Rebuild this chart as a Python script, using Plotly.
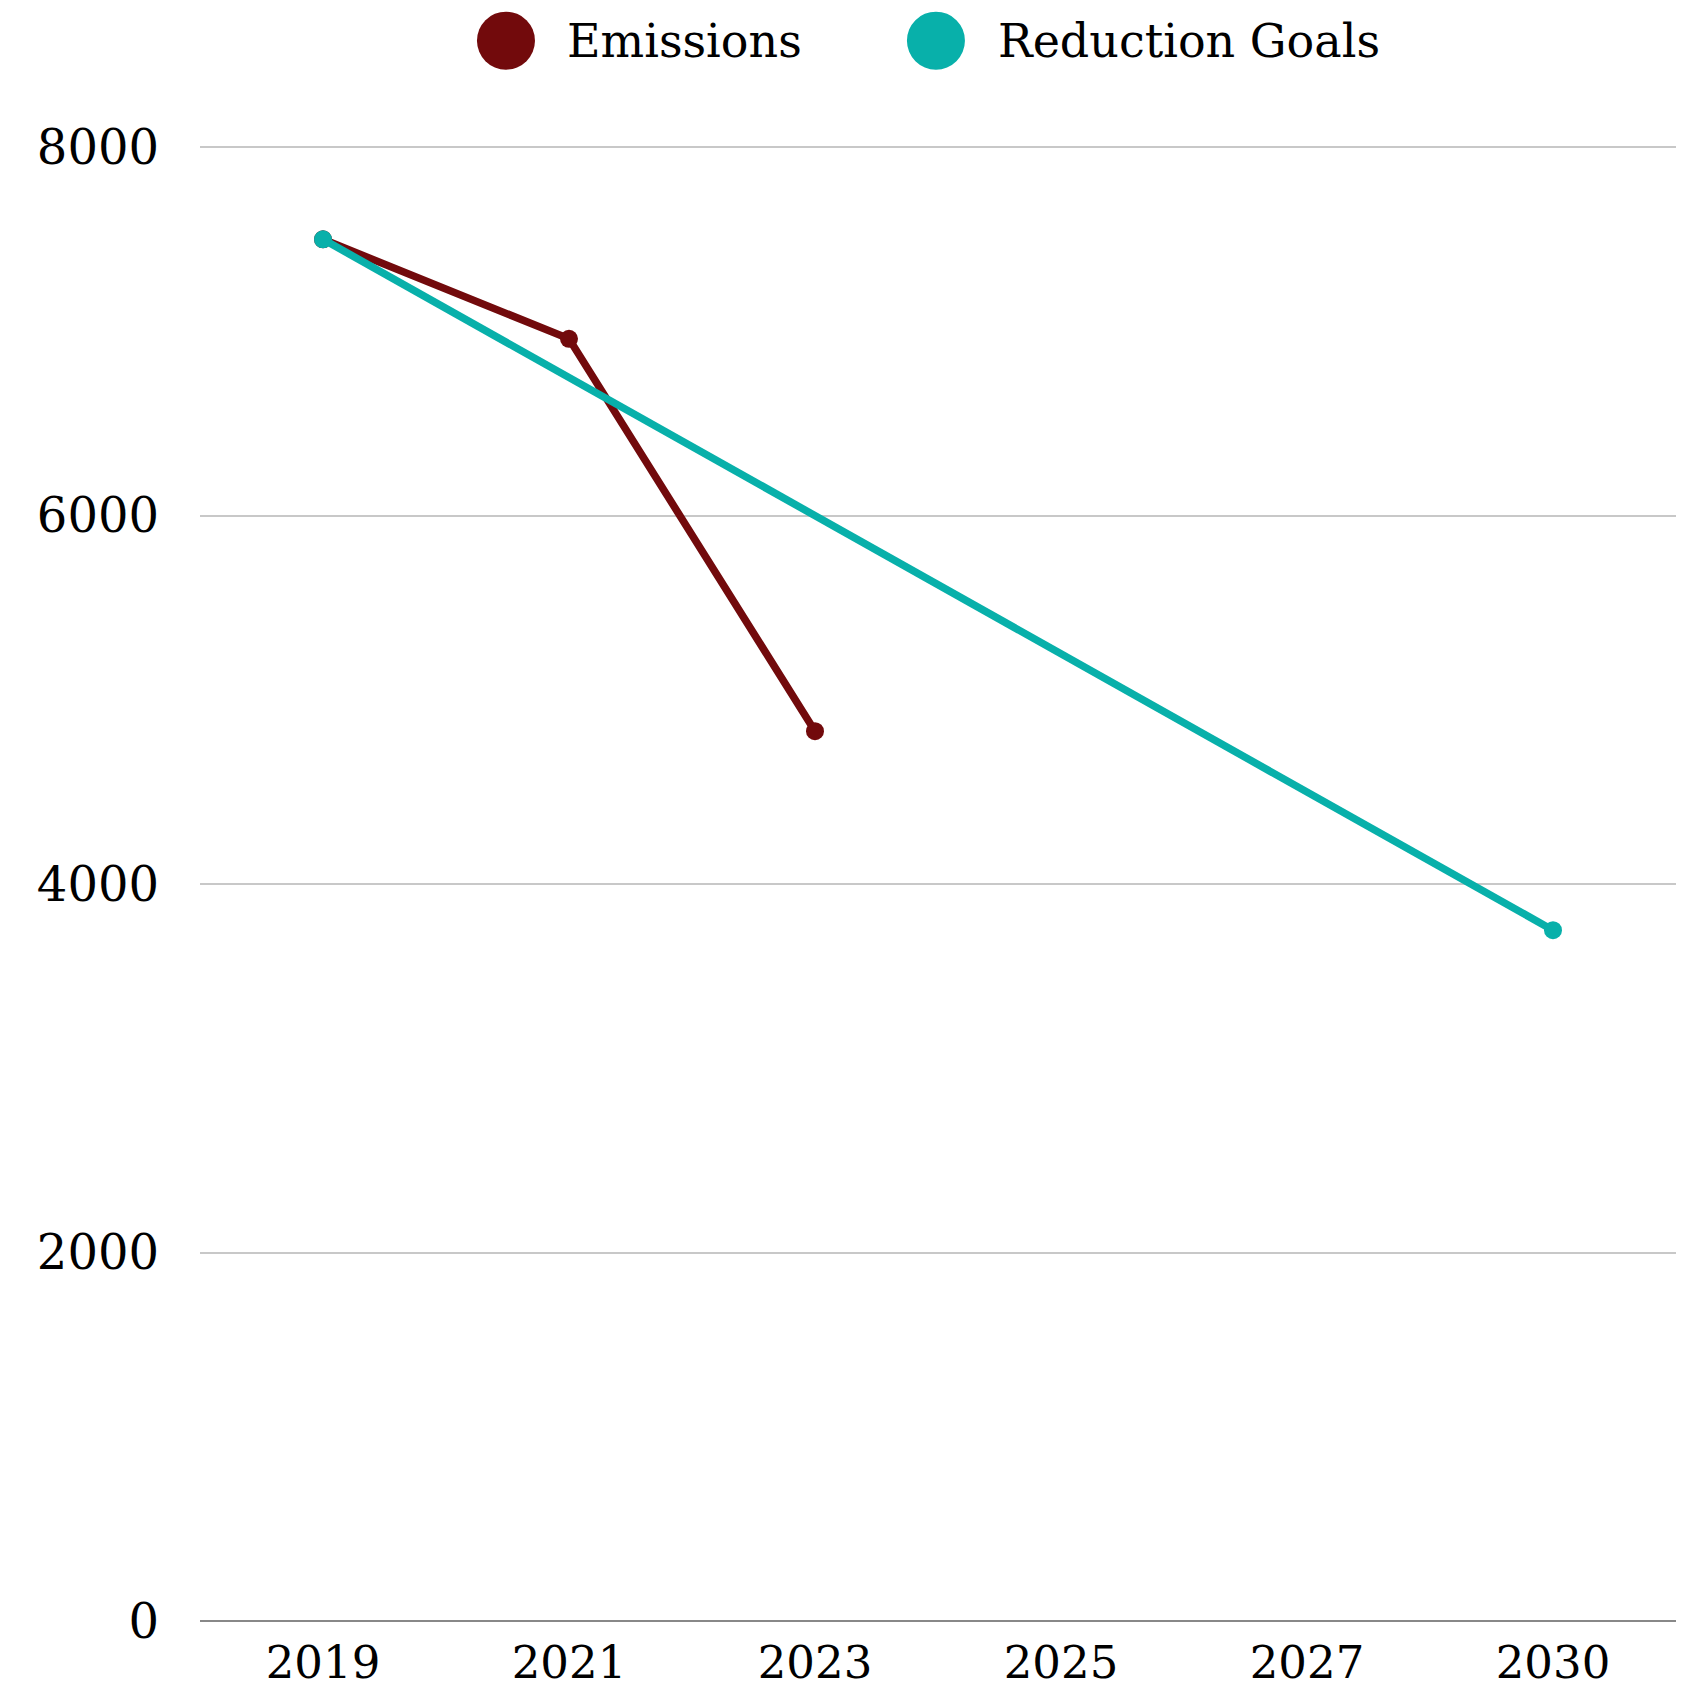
import plotly.graph_objects as go

years = ["2019", "2021", "2023", "2025", "2027", "2030"]
emis_years = ["2019", "2021", "2023"]
emis_values = [7500, 6960, 4830]
goal_years = ["2019", "2030"]
goal_values = [7500, 3750]
series_names = ["Emissions", "Reduction Goals"]
series_colors = ["#720a0c", "#08b0aa"]
y_ticks = [0, 2000, 4000, 6000, 8000]

FONT = "DejaVu Serif"

fig = go.Figure()
fig.add_trace(go.Scatter(x=emis_years, y=emis_values, mode="lines+markers",
                         name=series_names[0],
                         line=dict(color=series_colors[0], width=7.5),
                         marker=dict(color=series_colors[0], size=18),
                         showlegend=False))
fig.add_trace(go.Scatter(x=goal_years, y=goal_values, mode="lines+markers",
                         name=series_names[1],
                         line=dict(color=series_colors[1], width=7.5),
                         marker=dict(color=series_colors[1], size=18),
                         showlegend=False))

# custom legend (large circles)
legend_circle_x = [0.2073, 0.4986]
legend_text_x = [0.2473, 0.5393]
ly = 1.0707
for name, col, cx, tx in zip(series_names, series_colors, legend_circle_x, legend_text_x):
    fig.add_shape(type="circle", xref="paper", yref="paper",
                  xsizemode="pixel", ysizemode="pixel",
                  xanchor=cx, yanchor=ly, x0=-29, x1=29, y0=-29, y1=29,
                  fillcolor=col, line=dict(width=0))
    fig.add_annotation(text=name, xref="paper", yref="paper", x=tx, y=ly,
                       xanchor="left", yanchor="middle", showarrow=False,
                       font=dict(family=FONT, size=46, color="#000"))

# page body adds an 8px margin; size the figure so the plot area lands right
fig.update_layout(
    width=1679, height=1687,
    margin=dict(l=192, r=11, t=137, b=74),
    paper_bgcolor="white", plot_bgcolor="white",
    font=dict(family=FONT, size=46, color="#000"),
    showlegend=False,
)
fig.update_xaxes(type="category", categoryorder="array", categoryarray=years,
                 tickvals=years, range=[-0.5, 5.5], showgrid=False,
                 showline=False, zeroline=False, ticks="",
                 tickfont=dict(size=45),
                 ticklabelstandoff=11, automargin=False)
fig.update_yaxes(range=[0, 8012], tickvals=y_ticks, showgrid=True,
                 gridcolor="#c8c8c8", gridwidth=1.5, zeroline=True,
                 zerolinecolor="#888888", zerolinewidth=2, showline=False,
                 ticks="", tickfont=dict(size=48),
                 ticklabelstandoff=40, automargin=False)

fig.write_html("out.html")
